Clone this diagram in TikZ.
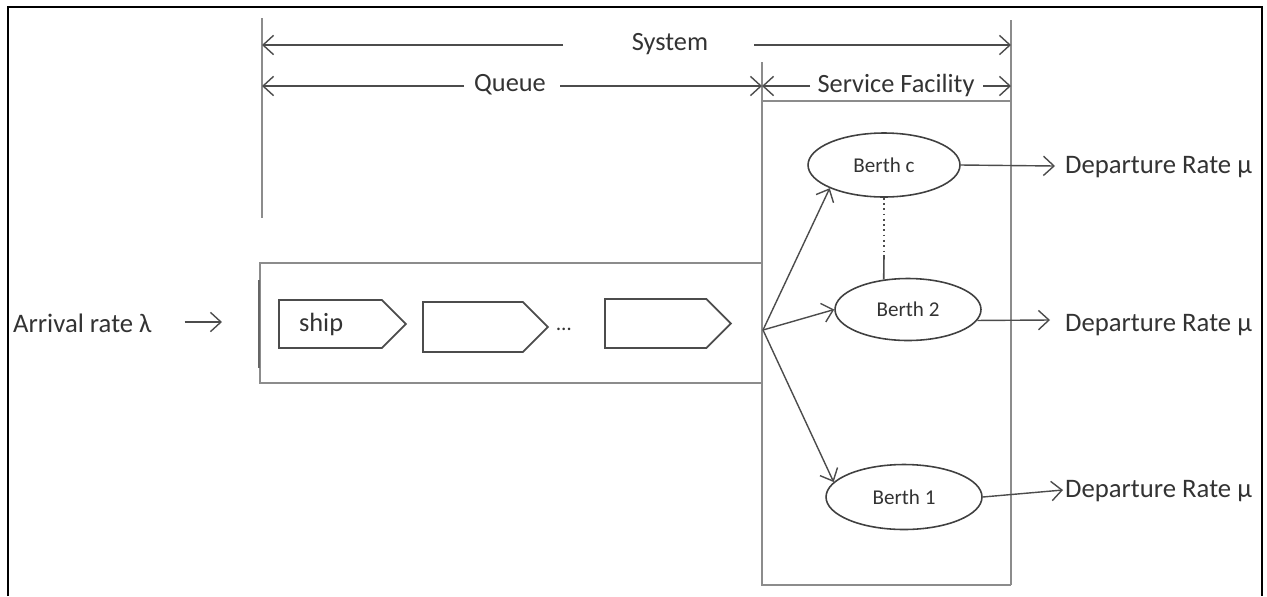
\documentclass[tikz,border=0pt]{standalone}
\usepackage{fontspec}
\setmainfont{Carlito}
\usetikzlibrary{arrows.meta,shapes.geometric,shapes.symbols}
\begin{document}
\begin{tikzpicture}[x=0.02cm,y=-0.02cm,
  txt/.style={text=black!80,font=\fontsize{15}{18}\selectfont,inner sep=1pt},
  big txt/.style={text=black!80,font=\fontsize{15.2}{18}\selectfont,inner sep=1pt},
  small txt/.style={text=black!80,font=\fontsize{12}{14}\selectfont,inner sep=0pt},
  rule/.style={draw=black!45,line width=0.8pt},
  arr/.style={draw=black!70,line width=0.8pt,-{Straight Barb[length=6pt,width=11pt,line width=0.8pt]}},
  berth/.style={ellipse,draw=black!75,line width=0.9pt,inner sep=0pt},
  shipbox/.style={signal,signal to=east,signal pointer angle=90,draw=black!70,line width=1pt,inner sep=0pt,anchor=west},
]
\useasboundingbox (0,0) rectangle (1267,596);

% outer frame, open at the bottom
\draw[black,line width=1.6pt] (8,596) -- (8,7) -- (1262,7) -- (1262,596);

% extent rules
\draw[rule] (262,18) -- (262,218);
\draw[rule] (1011,20) -- (1011,585);
\draw[rule] (762,62) -- (762,585) -- (1011,585);
\draw[draw=black!45,line width=1.3pt] (762,101) -- (1011,101);

% dimension labels
\node[txt] (sys) at (670,44) {System};
\node[txt] (que) at (510,85) {Queue};
\node[txt] (sf) at (896,85) {Service Facility};
\coordinate (sysA) at (563,45);
\coordinate (sysB) at (754,45);
\coordinate (sysL) at (262,45);
\coordinate (sysR) at (1011,45);
\coordinate (qA) at (464,86);
\coordinate (qB) at (560,86);
\coordinate (qL) at (262,86);
\coordinate (qR) at (762,86);
\coordinate (fA) at (810,86);
\coordinate (fB) at (983,86);
\coordinate (fR) at (1011,86);
\draw[arr] (sysA) -- (sysL);
\draw[arr] (sysB) -- (sysR);
\draw[arr] (qA) -- (qL);
\draw[arr] (qB) -- (qR);
\draw[arr] (fA) -- (qR);
\draw[arr] (fB) -- (fR);

% queue
\draw[rule] (260,263) rectangle (762,383);
\draw[draw=black!60,line width=1pt] (259,280) -- (259,368);
\node[shipbox,minimum width=2.54cm,minimum height=0.96cm] (s1) at (278,324) {};
\node[txt,anchor=west] (s1t) at ([xshift=0.38cm]s1.west) {ship};
\node[shipbox,minimum width=2.50cm,minimum height=1.00cm] (s2) at (422,327) {};
\node[small txt,inner sep=1pt] (dots) at (564,329) {\ldots};
\node[shipbox,minimum width=2.52cm,minimum height=0.98cm] (s3) at (604,323.5) {};

% arrival
\node[big txt,anchor=west] (arrival) at (11,323) {Arrival rate λ};
\coordinate (qin) at (222,322);
\draw[arr,shorten <=0.62cm] (arrival.east |- qin) -- (qin);

% berths
\coordinate (fan) at (763,330);
\node[berth,minimum width=3.04cm,minimum height=1.28cm] (bc) at (884,165) {};
\node[small txt] at (bc) {Berth c};
\node[berth,minimum width=2.92cm,minimum height=1.24cm] (b2) at (908,309.5) {};
\node[small txt] at (b2) {Berth 2};
\node[berth,minimum width=3.12cm,minimum height=1.30cm] (b1) at (904,497) {};
\node[small txt] at (b1) {Berth 1};

\draw[arr] (fan) -- (bc.south west);
\draw[arr] (fan) -- (b2.west);
\draw[arr] (fan) -- (b1.168);

\coordinate (mid) at (884,255);
\draw[draw=black!70,line width=1pt,dotted] (bc.south) -- (mid);
\draw[draw=black!70,line width=0.9pt] (mid) -- (b2.129);

% departures
\node[big txt,anchor=west] (dc) at (1063,167) {Departure Rate µ};
\node[big txt,anchor=west] (d2) at (1063,325) {Departure Rate µ};
\node[big txt,anchor=west] (d1) at (1063,491) {Departure Rate µ};
\coordinate (dcE) at (1055,166);
\coordinate (d2E) at (1050,320);
\coordinate (d1E) at (1063,490);
\draw[arr] (bc.east) -- (dcE);
\draw[arr] (b2.-9) -- (d2E);
\draw[arr] (b1.east) -- (d1E);
\end{tikzpicture}
\end{document}
